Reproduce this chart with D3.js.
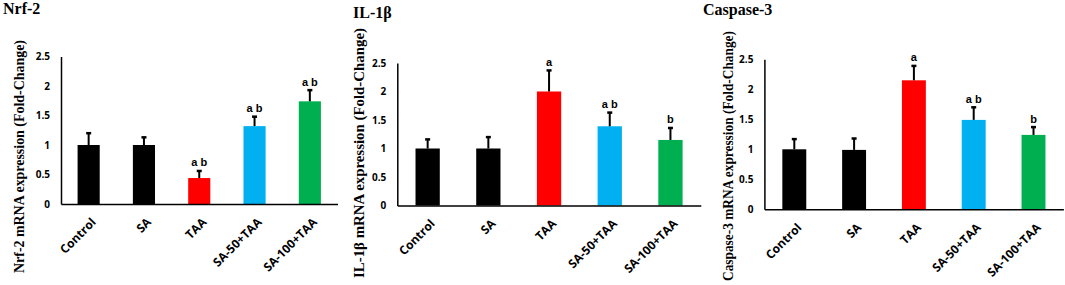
<!DOCTYPE html>
<html>
<head>
<meta charset="utf-8">
<script src="https://cdn.jsdelivr.net/npm/d3@7/dist/d3.min.js"></script>
<style>
  html, body { margin: 0; padding: 0; background: #fff; }
  svg { display: block; }
</style>
</head>
<body>
<svg id="chart" width="1065" height="285"></svg>
<script>
// ---- data ----
const categories = ["Control", "SA", "TAA", "SA-50+TAA", "SA-100+TAA"];
const barColors = ["#000000", "#000000", "#FF0000", "#00B0F0", "#00B050"];
const yTicks = [0, 0.5, 1, 1.5, 2, 2.5];

const nrf2Means = [1.0, 1.0, 0.44, 1.32, 1.74];
const nrf2Errors = [0.2, 0.13, 0.12, 0.16, 0.19];
const nrf2Letters = ["", "", "a b", "a b", "a b"];

const il1bMeans = [1.0, 1.0, 2.0, 1.39, 1.15];
const il1bErrors = [0.16, 0.2, 0.37, 0.24, 0.21];
const il1bLetters = ["", "", "a", "a b", "b"];

const casp3Means = [1.0, 0.99, 2.15, 1.49, 1.24];
const casp3Errors = [0.17, 0.19, 0.24, 0.21, 0.13];
const casp3Letters = ["", "", "a", "a b", "b"];

const panelTitles = ["Nrf-2", "IL-1β", "Caspase-3"];
const yTitles = ["Nrf-2 mRNA expression (Fold-Change)",
                 "IL-1β mRNA expression (Fold-Change)",
                 "Caspase-3 mRNA expression (Fold-Change)"];

// ---- layout (positions only) ----
const layouts = [
  { x0: 61,    x1: 337.5,  y0: 204,   yTop: 56.5, tx: 3,   ty: 14, ytx: 24,  yty: 156.5, ytl: 233 },
  { x0: 397.3, x1: 700.8,  y0: 205.5, yTop: 63,   tx: 353, ty: 18, ytx: 364, yty: 153,   ytl: 250 },
  { x0: 764.4, x1: 1063.4, y0: 209.3, yTop: 59.3, tx: 703, ty: 15, ytx: 733, yty: 156,   ytl: 250 }
];

const panels = [
  { means: nrf2Means, errors: nrf2Errors, letters: nrf2Letters },
  { means: il1bMeans, errors: il1bErrors, letters: il1bLetters },
  { means: casp3Means, errors: casp3Errors, letters: casp3Letters }
];

const svg = d3.select("#chart");
const serif = "'Liberation Serif', 'Times New Roman', serif";
const sans = "'Open Sans', 'Liberation Sans', sans-serif";
const arial = "'Liberation Sans', Arial, sans-serif";

panels.forEach((p, i) => {
  const L = layouts[i];
  const g = svg.append("g");

  const x = d3.scaleBand().domain(categories).range([L.x0, L.x1])
    .paddingInner(0.6).paddingOuter(0.3);
  const y = d3.scaleLinear().domain([0, 2.5]).range([L.y0, L.yTop]);

  // title
  g.append("text").attr("x", L.tx).attr("y", L.ty)
    .attr("font-family", serif).attr("font-weight", "bold").attr("font-size", 16)
    .text(panelTitles[i]);

  // y title
  g.append("text")
    .attr("transform", `translate(${L.ytx},${L.yty}) rotate(-90)`)
    .attr("text-anchor", "middle")
    .attr("font-family", serif).attr("font-weight", "bold").attr("font-size", 14.5)
    .attr("textLength", L.ytl).attr("lengthAdjust", "spacingAndGlyphs")
    .text(yTitles[i]);

  // bars
  g.selectAll("rect.bar").data(categories).enter().append("rect")
    .attr("x", d => x(d))
    .attr("y", (d, k) => y(p.means[k]))
    .attr("width", x.bandwidth())
    .attr("height", (d, k) => y(0) - y(p.means[k]))
    .attr("fill", (d, k) => barColors[k]);

  // error bars (upper only)
  categories.forEach((c, k) => {
    const cx = x(c) + x.bandwidth() / 2;
    const top = y(p.means[k] + p.errors[k]);
    g.append("line").attr("x1", cx).attr("x2", cx)
      .attr("y1", y(p.means[k])).attr("y2", top)
      .attr("stroke", "#000").attr("stroke-width", 2);
    g.append("line").attr("x1", cx - 2.5).attr("x2", cx + 2.5)
      .attr("y1", top).attr("y2", top)
      .attr("stroke", "#000").attr("stroke-width", 2.5);
    if (p.letters[k]) {
      g.append("text").attr("x", cx).attr("y", top - 4.5)
        .attr("text-anchor", "middle")
        .attr("font-family", arial).attr("font-weight", "bold").attr("font-size", 11)
        .text(p.letters[k]);
    }
  });

  // y axis
  const ya = g.append("g").attr("transform", `translate(${L.x0},0)`)
    .call(d3.axisLeft(y).tickValues(yTicks).tickSize(0).tickPadding(11)
      .tickFormat(d => String(d)));
  ya.select(".domain").attr("stroke", "#000").attr("stroke-width", 1.5);
  ya.selectAll("text").attr("font-family", sans).attr("font-weight", "bold")
    .attr("font-size", 10).attr("fill", "#000");

  // x axis
  const xa = g.append("g").attr("transform", `translate(0,${L.y0})`)
    .call(d3.axisBottom(x).tickSize(0).tickSizeOuter(0));
  xa.select(".domain").attr("stroke", "#000").attr("stroke-width", 1.5);
  xa.selectAll("text")
    .attr("font-family", sans).attr("font-weight", "bold").attr("font-size", 12)
    .attr("fill", "#000")
    .attr("text-anchor", "end")
    .attr("dy", null)
    .attr("y", 0)
    .attr("transform", "translate(8,19) rotate(-45)");
});
</script>
</body>
</html>
